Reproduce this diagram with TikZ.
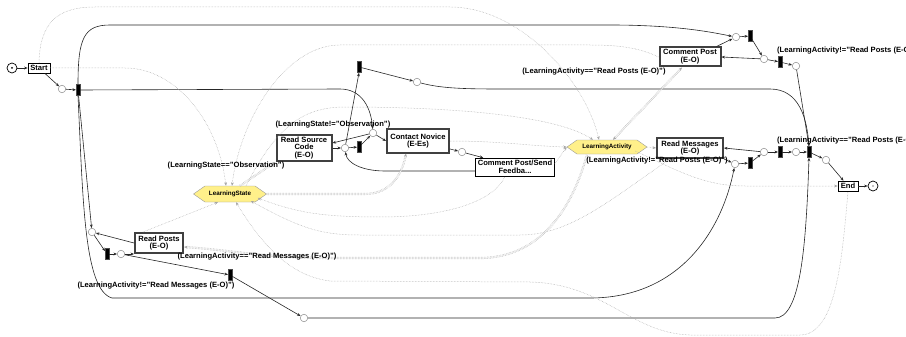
\documentclass[tikz,border=0pt]{standalone}
\usepackage{fontspec}
\setmainfont{Liberation Sans}
\usetikzlibrary{arrows.meta,shapes.symbols}
\definecolor{hexfill}{HTML}{FFF08A}
\tikzset{
  place/.style={circle,draw=black!45,fill=white,inner sep=0pt,minimum size=7.5pt,line width=.5pt},
  tbar/.style={rectangle,fill=black,draw=black!70,inner sep=0pt,minimum width=3.5pt,minimum height=11pt,line width=.5pt},
  task/.style={rectangle,draw=black!75,fill=white,line width=2pt,align=center,inner sep=.5pt,font=\fontsize{7.6}{7.8}\selectfont\bfseries},
  gate/.style={rectangle,draw=black,fill=white,line width=.7pt,align=center,inner sep=.5pt,font=\fontsize{7.6}{7.8}\selectfont\bfseries},
  hexa/.style={signal,signal to=east and west,signal pointer angle=70,draw=black!40,fill=hexfill,inner sep=0pt,font=\fontsize{6.3}{6.5}\selectfont\bfseries},
  lbl/.style={inner sep=0pt,font=\fontsize{7.6}{8}\selectfont\bfseries},
  flow/.style={draw=black!85,line width=.6pt,->},
  info/.style={draw=black!35,line width=.5pt,densely dotted},
  info2/.style={info,double=white,double distance=1.3pt,line width=.4pt},
}

\begin{document}
\begin{tikzpicture}[x=1pt,y=-1pt,>={Stealth[length=3.5pt,width=2.8pt]}]
		%%%%% START %%%%%
		\useasboundingbox (0,0) rectangle (906,337);
		\clip (0,0) rectangle (906,337);
		
		\node[place,draw=black,line width=.7pt,minimum size=10pt] (src) at (12,68) {};
		\node[gate,minimum width=22pt,minimum height=10pt] (start) at (39,68) {Start};
		\node[place] (p1) at (62,89) {};
		\node[tbar] (b1) at (78,90) {};
		
		\node[place] (p2) at (92,232) {};
		\node[tbar] (b2) at (107,254) {};
		\node[place] (p3) at (121,254) {};
		\node[task,minimum width=48pt,minimum height=20pt] (rp) at (159,243) {Read Posts\\(E-O)};
		\node[tbar] (b3) at (230,275) {};
		\node[place] (p4) at (304,318) {};
		
		\node[hexa,minimum width=73pt,minimum height=16pt] (ls) at (230,194) {LearningState};
		
		\node[task,minimum width=55pt,minimum height=26pt] (rsc) at (304,148) {Read Source\\Code\\(E-O)};
		\node[place] (p5) at (345,148) {};
		\node[tbar] (b4) at (359,147) {};
		\node[place] (p6) at (373,133) {};
		\node[tbar] (b5) at (359,67) {};
		\node[place] (p7) at (417,82) {};
		\node[task,minimum width=62pt,minimum height=23pt] (cn) at (418,141) {Contact Novice\\(E-Es)};
		\node[place] (p8) at (462,152) {};
		\node[gate,line width=.5pt,minimum width=79pt,minimum height=18pt] (cps) at (515,167) {Comment Post/Send\\Feedba...};
		
		\node[hexa,minimum width=80pt,minimum height=14pt] (la) at (607,147) {LearningActivity};
		
		\node[task,minimum width=61pt,minimum height=19pt] (cp) at (690,57) {Comment Post\\(E-O)};
		\node[place] (p9) at (736,37) {};
		\node[tbar] (b6) at (750,36) {};
		\node[place] (p10) at (764,59) {};
		\node[tbar] (b7) at (780,62) {};
		\node[place] (p11) at (796,66) {};
		
		\node[task,minimum width=66pt,minimum height=20pt] (rm) at (690,148) {Read Messages\\(E-O)};
		\node[place] (p12) at (735,164) {};
		\node[tbar] (b8) at (750,163) {};
		\node[place] (p13) at (764,152) {};
		\node[tbar] (b9) at (780,152) {};
		\node[place] (p14) at (796,152) {};
		\node[tbar] (b10) at (809,152) {};
		\node[place] (p15) at (826,160) {};
		\node[gate,minimum width=20pt,minimum height=10pt] (end) at (848,186) {End};
		\node[place,draw=black,line width=.7pt,minimum size=10pt] (snk) at (873,186) {};
		\fill (src) circle (1pt);
		\fill (snk) circle (.7pt);
		
		% control flow
		\draw[flow] (src) -- (start);
		\draw[flow] (start) -- (p1);
		\draw[flow] (p1) -- (b1);
		\draw[flow] (b1) -- (p2);
		\draw[flow] (b1.east) -- (340,89) .. controls (362,89) and (371,108) .. (p6);
		\draw[flow] (b1.north) .. controls (78,38) and (84,25) .. (110,25) -- (610,25) .. controls (680,25) and (715,33) .. (p9);
		\draw[flow] (b1.south) .. controls (83,200) and (84,290) .. (112,298) -- (590,298) .. controls (680,298) and (722,230) .. (p12);
		
		\draw[flow] (rp.west) -- (p2);
		\draw[flow] (p2) -- (b2);
		\draw[flow] (b2) -- (p3);
		\draw[flow] (p3) -- (rp.south west);
		\draw[flow] (p3) -- (b3);
		\draw[flow] (b3) -- (p4);
		\draw[flow] (p4) -- (775,318) .. controls (800,318) and (806,250) .. (b10.south);
		
		\draw[flow] (rsc.east) -- (p5);
		\draw[flow] (p5) -- (b4);
		\draw[flow] (b4) -- (p6);
		\draw[flow] (p6) -- ([yshift=5pt]rsc.east);
		\draw[flow] (p6) -- (cn.west);
		\draw[flow] (p5) -- (b5.south);
		\draw[flow] (b5) -- (p7);
		\draw[flow] (p7) .. controls (440,88) and (460,89) .. (500,89) -- (770,89) .. controls (800,89) and (807,120) .. (b10.north);
		\draw[flow] (cn) -- (p8);
		\draw[flow] (p8) -- ([xshift=8pt]cps.north west);
		\draw[flow] ([yshift=-4pt]cps.west) -- (385,171) .. controls (362,171) and (347,163) .. (p5);
		
		\draw[flow] ([xshift=-5pt]cp.north east) -- (p9);
		\draw[flow] (p9) -- (b6);
		\draw[flow] (b6) -- (p10);
		\draw[flow] (p10) -- (cp.east);
		\draw[flow] (p10) -- (b7);
		\draw[flow] (b7) -- (p11);
		\draw[flow] (p11) -- (b10.north);
		
		\draw[flow] (rm.south east) -- (p12);
		\draw[flow] (p12) -- (b8);
		\draw[flow] (b8) -- (p13);
		\draw[flow] (p13) -- (rm.east);
		\draw[flow] (p13) -- (b9);
		\draw[flow] (b9) -- (p14);
		\draw[flow] (p14) -- (b10);
		\draw[flow] (b10) -- (p15);
		\draw[flow] (p15) -- (end);
		\draw[flow] (end) -- (snk);
		
		% data
		\draw[info,->] (start.east) -- (125,68) .. controls (175,68) and (218,120) .. ([xshift=-4pt]ls.north);
		\draw[info,->] (start.north) .. controls (40,25) and (55,7) .. (95,7) -- (450,7) .. controls (520,7) and (585,80) .. ([xshift=-8pt]la.north);
		\draw[info,<-] ([xshift=2pt]ls.north) .. controls (240,120) and (285,45) .. (340,45) -- (590,45) .. controls (620,45) and (640,48) .. (cp.west);
		\draw[info2,->] ([xshift=10pt]ls.north) -- (rsc.south west);
		\draw[info,->] ([xshift=16pt]ls.north) .. controls (275,130) and (300,107) .. (345,107) .. controls (470,107) and (560,118) .. ([xshift=-14pt]la.north);
		\draw[info2,->] (ls.east) -- (365,194) .. controls (390,194) and (402,175) .. ([xshift=-12pt]cn.south);
		\draw[info,<-] ([shift={(-9pt,-4pt)}]ls.east) .. controls (295,212) and (320,217) .. (380,217) .. controls (450,217) and (495,200) .. ([xshift=-10pt]cps.south);
		\draw[info,<-] ([shift={(-16pt,-7pt)}]ls.east) .. controls (300,228) and (320,235) .. (360,235) -- (520,235) .. controls (570,235) and (610,200) .. ([xshift=-20pt]rm.south);
		\draw[info,<-] ([xshift=6pt]ls.south) .. controls (262,245) and (290,276) .. (330,281) -- (530,282) .. controls (605,284) and (630,333) .. (690,335) -- (800,335) .. controls (836,335) and (842,260) .. (end.south);
		\draw[info,->] ([xshift=-16pt]rp.north) -- ([xshift=-12pt]ls.south);
		\draw[info2,<-] ([yshift=-4pt]rp.east) .. controls (230,250) and (260,257) .. (320,258) -- (480,258) .. controls (545,258) and (575,200) .. ([xshift=-20pt]la.south);
		\draw[info,->] (cn.east) .. controls (500,141) and (530,146) .. (la.west);
		\draw[info,->] ([yshift=3pt]cps.east) -- (la.west);
		\draw[info,->] (la.east) -- (rm.west);
		\draw[info2,<->] ([xshift=6pt]la.north) -- ([xshift=-8pt]cp.south);
		\draw[info,->] ([shift={(-12pt,-4pt)}]la.east) .. controls (680,172) and (705,186) .. (745,186) -- (end.west);
		
		% guards
		\node[lbl] (g1) at (333,125) {(LearningState!="Observation")};
		\node[lbl] (g2) at (226,166) {(LearningState=="Observation")};
		\node[lbl] (g3) at (594,72) {(LearningActivity=="Read Posts (E-O)")};
		\node[lbl] (g4) at (657,161) {(LearningActivity!="Read Posts (E-O)")};
		\node[lbl,anchor=west] (g5) at (777,51) {(LearningActivity!="Read Posts (E-O)")};
		\node[lbl,anchor=west] (g6) at (777,141) {(LearningActivity=="Read Posts (E-O)")};
		\node[lbl] (g7) at (257,257) {(LearningActivity=="Read Messages (E-O)")};
		\node[lbl] (g8) at (156,286) {(LearningActivity!="Read Messages (E-O)")};
		%%%%% END %%%%%
\end{tikzpicture}
\end{document}
